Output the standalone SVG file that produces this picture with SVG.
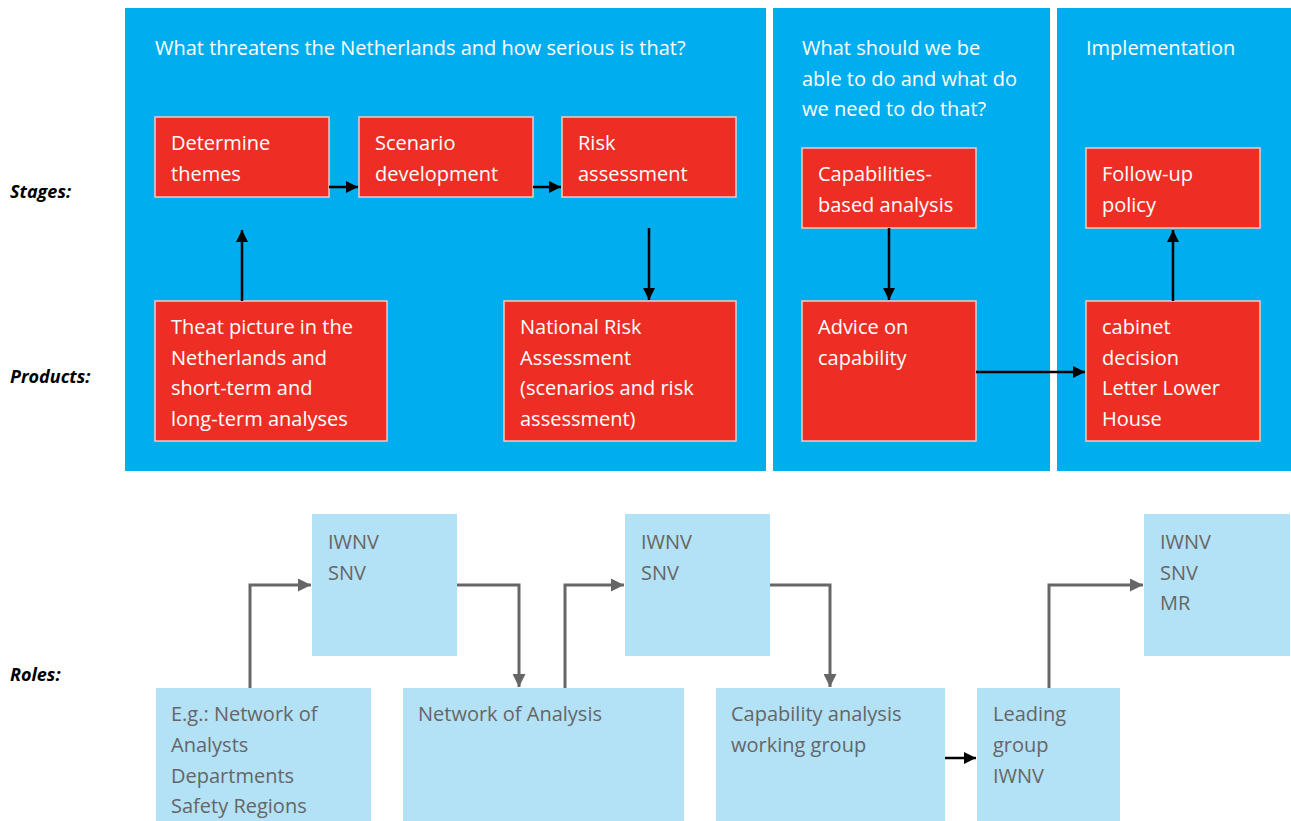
<svg xmlns="http://www.w3.org/2000/svg" width="1291" height="821" viewBox="0 0 1291 821">
<defs>
<style>
.panel{fill:#00AEEF}
.red{fill:#EE2E24;stroke:#F7C9C0;stroke-width:1.5}
.lb{fill:#B3E1F6}
.wt{font-family:"Open Sans","Liberation Sans",sans-serif;font-size:20px;fill:#FFFFFF}
.gt{font-family:"Open Sans","Liberation Sans",sans-serif;font-size:20px;fill:#666666}
.lbl{font-family:"Open Sans","Liberation Sans",sans-serif;font-size:18px;font-weight:bold;font-style:italic;fill:#000000}
.blk{stroke:#000;stroke-width:2.5;fill:none}
.gry{stroke:#666666;stroke-width:3;fill:none}
</style>
<marker id="ab" markerWidth="12" markerHeight="12" refX="10" refY="5" orient="auto" markerUnits="userSpaceOnUse" viewBox="0 0 10 10">
<path d="M0,0 L10,5 L0,10 z" fill="#000"/>
</marker>
<marker id="ag" markerWidth="14" markerHeight="13" refX="10" refY="5" orient="auto" markerUnits="userSpaceOnUse" viewBox="0 0 10 10">
<path d="M0,0 L10,5 L0,10 z" fill="#666666"/>
</marker>
</defs>
<rect width="1291" height="821" fill="#FFFFFF"/>

<g id="labels">
<text class="lbl" x="10" y="198">Stages:</text>
<text class="lbl" x="10" y="383">Products:</text>
<text class="lbl" x="10" y="681">Roles:</text>
</g>

<g id="panel-threat">
<rect class="panel" x="125" y="8" width="641" height="463"/>
<text class="wt" x="155" y="55">What threatens the Netherlands and how serious is that?</text>
</g>
<g id="panel-capability">
<rect class="panel" x="773" y="8" width="277" height="463"/>
<text class="wt" x="802" y="55">What should we be</text>
<text class="wt" x="802" y="86">able to do and what do</text>
<text class="wt" x="802" y="116">we need to do that?</text>
</g>
<g id="panel-implementation">
<rect class="panel" x="1057" y="8" width="234" height="463"/>
<text class="wt" x="1086" y="55">Implementation</text>
</g>

<g id="determine-themes">
<rect class="red" x="155" y="117" width="174" height="80"/>
<text class="wt" x="171" y="150">Determine</text>
<text class="wt" x="171" y="181">themes</text>
</g>
<g id="scenario-development">
<rect class="red" x="359" y="117" width="174" height="80"/>
<text class="wt" x="375" y="150">Scenario</text>
<text class="wt" x="375" y="181">development</text>
</g>
<g id="risk-assessment">
<rect class="red" x="562" y="117" width="174" height="80"/>
<text class="wt" x="578" y="150">Risk</text>
<text class="wt" x="578" y="181">assessment</text>
</g>
<g id="threat-picture">
<rect class="red" x="155" y="301" width="232" height="140"/>
<text class="wt" x="171" y="334">Theat picture in the</text>
<text class="wt" x="171" y="365">Netherlands and</text>
<text class="wt" x="171" y="395">short-term and</text>
<text class="wt" x="171" y="426">long-term analyses</text>
</g>
<g id="national-risk-assessment">
<rect class="red" x="504" y="301" width="232" height="140"/>
<text class="wt" x="520" y="334">National Risk</text>
<text class="wt" x="520" y="365">Assessment</text>
<text class="wt" x="520" y="395">(scenarios and risk</text>
<text class="wt" x="520" y="426">assessment)</text>
</g>
<g id="capabilities-analysis">
<rect class="red" x="802" y="148" width="174" height="80"/>
<text class="wt" x="818" y="181">Capabilities-</text>
<text class="wt" x="818" y="212">based analysis</text>
</g>
<g id="advice-capability">
<rect class="red" x="802" y="301" width="174" height="140"/>
<text class="wt" x="818" y="334">Advice on</text>
<text class="wt" x="818" y="365">capability</text>
</g>
<g id="follow-up-policy">
<rect class="red" x="1086" y="148" width="174" height="80"/>
<text class="wt" x="1102" y="181">Follow-up</text>
<text class="wt" x="1102" y="212">policy</text>
</g>
<g id="cabinet-decision">
<rect class="red" x="1086" y="301" width="174" height="140"/>
<text class="wt" x="1102" y="334">cabinet</text>
<text class="wt" x="1102" y="365">decision</text>
<text class="wt" x="1102" y="395">Letter Lower</text>
<text class="wt" x="1102" y="426">House</text>
</g>

<g id="role-iwnv-snv-1">
<rect class="lb" x="312" y="514" width="145" height="142"/>
<text class="gt" x="328" y="549">IWNV</text>
<text class="gt" x="328" y="580">SNV</text>
</g>
<g id="role-network-analysts">
<rect class="lb" x="156" y="688" width="215" height="133"/>
<text class="gt" x="171" y="721">E.g.: Network of</text>
<text class="gt" x="171" y="752">Analysts</text>
<text class="gt" x="171" y="783">Departments</text>
<text class="gt" x="171" y="813">Safety Regions</text>
</g>
<g id="role-network-analysis">
<rect class="lb" x="403" y="688" width="281" height="133"/>
<text class="gt" x="418" y="721">Network of Analysis</text>
</g>
<g id="role-iwnv-snv-2">
<rect class="lb" x="625" y="514" width="145" height="142"/>
<text class="gt" x="641" y="549">IWNV</text>
<text class="gt" x="641" y="580">SNV</text>
</g>
<g id="role-capability-wg">
<rect class="lb" x="716" y="688" width="229" height="133"/>
<text class="gt" x="731" y="721">Capability analysis</text>
<text class="gt" x="731" y="752">working group</text>
</g>
<g id="role-leading-group">
<rect class="lb" x="977" y="688" width="143" height="133"/>
<text class="gt" x="993" y="721">Leading</text>
<text class="gt" x="993" y="752">group</text>
<text class="gt" x="993" y="783">IWNV</text>
</g>
<g id="role-iwnv-snv-mr">
<rect class="lb" x="1144" y="514" width="146" height="142"/>
<text class="gt" x="1160" y="549">IWNV</text>
<text class="gt" x="1160" y="580">SNV</text>
<text class="gt" x="1160" y="610">MR</text>
</g>

<g id="connectors">
<path class="blk" d="M329,187 H358" marker-end="url(#ab)"/>
<path class="blk" d="M533,187 H561" marker-end="url(#ab)"/>
<path class="blk" d="M242,301 V230" marker-end="url(#ab)"/>
<path class="blk" d="M649,228 V300" marker-end="url(#ab)"/>
<path class="blk" d="M889,228 V300" marker-end="url(#ab)"/>
<path class="blk" d="M1173,301 V230" marker-end="url(#ab)"/>
<path class="blk" d="M976,372 H1085" marker-end="url(#ab)"/>
<path class="gry" d="M250,688 V585 H311" marker-end="url(#ag)"/>
<path class="gry" d="M457,585 H519 V687" marker-end="url(#ag)"/>
<path class="gry" d="M565,688 V585 H624" marker-end="url(#ag)"/>
<path class="gry" d="M770,585 H830 V687" marker-end="url(#ag)"/>
<path class="blk" d="M945,758 H976" marker-end="url(#ab)"/>
<path class="gry" d="M1049,688 V585 H1143" marker-end="url(#ag)"/>
</g>
</svg>
